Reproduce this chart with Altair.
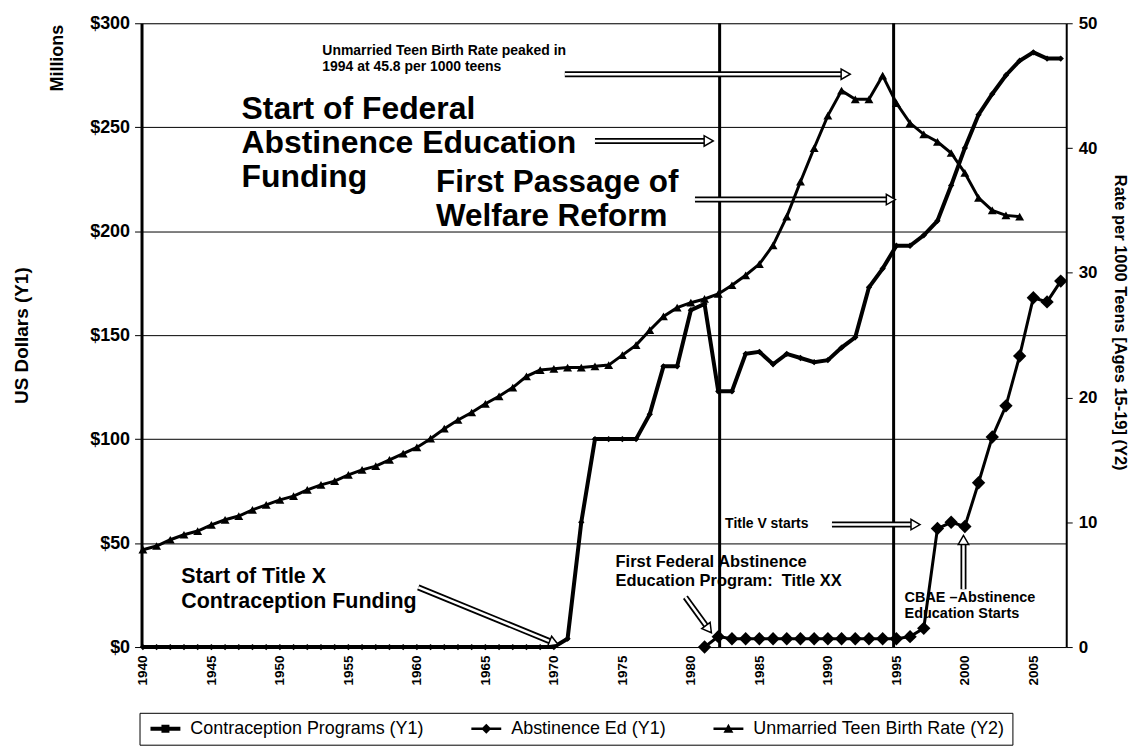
import altair as alt
import pandas as pd

# ---------------- data ----------------
years = list(range(1940, 2008))
contraception = [0, 0, 0, 0, 0, 0, 0, 0, 0, 0,
                 0, 0, 0, 0, 0, 0, 0, 0, 0, 0,
                 0, 0, 0, 0, 0, 0, 0, 0, 0, 0,
                 0, 4, 60, 100, 100, 100, 100, 112, 135, 135,
                 162, 165, 123, 123, 141, 142, 136, 141, 139, 137,
                 138, 144, 149, 173, 182, 193, 193, 198, 205, 222,
                 240, 256, 266, 275, 282, 286, 283, 283]

birth_years = list(range(1940, 2005))
birth_rate = [7.8, 8.1, 8.6, 9.0, 9.3, 9.8, 10.2, 10.5, 11.0, 11.4,
              11.8, 12.1, 12.6, 13.0, 13.3, 13.8, 14.2, 14.5, 15.0, 15.5,
              16.0, 16.7, 17.5, 18.2, 18.8, 19.5, 20.1, 20.8, 21.7, 22.2,
              22.3, 22.4, 22.4, 22.5, 22.6, 23.4, 24.2, 25.4, 26.5, 27.2,
              27.6, 27.9, 28.3, 29.0, 29.8, 30.7, 32.2, 34.5, 37.3, 40.0,
              42.6, 44.6, 43.9, 43.9, 45.8, 43.6, 42.0, 41.1, 40.5, 39.6,
              38.0, 36.0, 35.0, 34.6, 34.5]

abst_years = list(range(1981, 2008))
abstinence = [0, 5, 4, 4, 4, 4, 4, 4, 4, 4,
              4, 4, 4, 4, 4, 5, 9, 57, 60, 58,
              79, 101, 116, 140, 168, 166, 176]

event_years = [1982.1, 1994.8]

series_names = ["Contraception Programs (Y1)", "Abstinence Ed (Y1)",
                "Unmarried Teen Birth Rate (Y2)"]
# legend glyphs: a short line segment with the series' marker on it
legend_paths = ["M-1,-0.4H5V0.4H-1Z M1.2,-0.8H2.8V0.8H1.2Z",
                "M-1,-0.25H5V0.25H-1Z M2,-1L3,0L2,1L1,0Z",
                "M-1,-0.25H5V0.25H-1Z M2,-1L3,0.8H1Z"]

x_ticks = list(range(1940, 2006, 5))
y1_ticks = [0, 50, 100, 150, 200, 250, 300]
y2_ticks = [0, 10, 20, 30, 40, 50]

# annotations (data coordinates: year, Y1 dollars)
ann_text = ["Unmarried Teen Birth Rate peaked in", "1994 at 45.8 per 1000 teens",
            "Start of Federal", "Abstinence Education", "Funding",
            "First Passage of", "Welfare Reform",
            "Start of Title X", "Contraception Funding",
            "First Federal Abstinence", "Education Program:\u00a0 Title XX",
            "Title V starts",
            "CBAE \u2013Abstinence", "Education Starts"]
ann_x = [1953.1, 1953.1,
         1947.2, 1947.2, 1947.2,
         1961.4, 1961.4,
         1942.8, 1942.8,
         1974.5, 1974.5,
         1982.5,
         1995.6, 1995.6]
ann_y = [286.5, 279.0,
         258.8, 242.5, 226.0,
         223.3, 207.0,
         33.5, 21.6,
         40.7, 31.6,
         59.4,
         23.5, 15.8]
ann_size = [14, 14,
            32, 32, 32,
            31.5, 31.5,
            21.5, 21.5,
            16.5, 16.5,
            14,
            14.5, 14.5]

arrow_x = [1970.8, 1973.0, 1980.3, 1990.3, 1960.1, 1979.6, 1999.9]
arrow_y = [275.5, 243.4, 215.2, 58.9, 28.7, 24.0, 27.8]
arrow_x2 = [1991.3, 1981.3, 1994.6, 1996.4, 1970.0, 1981.3, 1999.9]
arrow_y2 = [275.5, 243.4, 215.2, 58.9, 2.0, 8.6, 51.5]
arrow_angle = [0, 0, 0, 0, 22, 53, 270]

# ---------------- tables ----------------
con_df = pd.DataFrame({"year": years, "value": contraception})
abs_df = pd.DataFrame({"year": abst_years, "value": abstinence})
birth_df = pd.DataFrame({"year": birth_years, "value": birth_rate})
ev_df = pd.DataFrame({"year": event_years})
ann_df = pd.DataFrame({"text": ann_text, "x": ann_x, "y": ann_y, "size": ann_size})
arr_df = pd.DataFrame({"x": arrow_x, "y": arrow_y, "x2": arrow_x2, "y2": arrow_y2,
                       "angle": arrow_angle})
leg_df = pd.DataFrame({"series": series_names, "year": [1940] * 3, "value": [0] * 3})
mill_df = pd.DataFrame({"t": ["Millions"]})

FONT = "Liberation Sans"
XS = alt.Scale(domain=[1939.9, 2007.4], nice=False, zero=False)
Y1S = alt.Scale(domain=[0, 300], nice=False)
Y2S = alt.Scale(domain=[0, 50], nice=False)

x_axis = alt.Axis(values=x_ticks, format="d", labelAngle=270, labelFontSize=13.5,
                  labelFontWeight="bold", labelPadding=8, domain=False, ticks=False,
                  grid=False, title=None, labelColor="black")
y1_axis = alt.Axis(values=y1_ticks, labelExpr="'$' + datum.value", grid=True,
                   gridColor="black", gridOpacity=1, gridWidth=1,
                   domainColor="black", domainWidth=3, tickColor="black", tickSize=7,
                   labelFontSize=18, labelFontWeight="bold", labelPadding=5,
                   labelColor="black",
                   title="US Dollars (Y1)", titleFontSize=19, titleFontWeight="bold",
                   titleAngle=270, titleX=-120, titleY=313, titleAlign="center",
                   titleBaseline="middle", titleColor="black")
y2_axis = alt.Axis(orient="right", values=y2_ticks, grid=False, domainColor="black",
                   domainWidth=2, tickColor="black", tickSize=6, labelFontSize=17,
                   labelFontWeight="bold", labelPadding=6, labelColor="black",
                   title="Rate per 1000 Teens [Ages 15-19] (Y2)", titleFontSize=16.5,
                   titleFontWeight="bold", titleAngle=90, titleX=53, titleY=300,
                   titleAlign="center", titleBaseline="middle", titleColor="black")

# later layers leave the axis unspecified so that the first layer's axis is kept
xn = alt.X("year:Q", scale=XS)
yn = alt.Y("value:Q", scale=Y1S)

con_line = alt.Chart(con_df).mark_line(color="black", strokeWidth=4).encode(
    x=alt.X("year:Q", scale=XS, axis=x_axis),
    y=alt.Y("value:Q", scale=Y1S, axis=y1_axis))
con_pts = alt.Chart(con_df).mark_point(shape="diamond", filled=True, color="black",
                                       size=40, opacity=1).encode(x=xn, y=yn)
abs_line = alt.Chart(abs_df).mark_line(color="black", strokeWidth=3).encode(x=xn, y=yn)
abs_pts = alt.Chart(abs_df).mark_point(shape="diamond", filled=True, color="black",
                                       size=180, opacity=1).encode(x=xn, y=yn)
events = alt.Chart(ev_df).mark_rule(color="black", strokeWidth=3).encode(x=xn)

ax = alt.X("x:Q", scale=XS)
ay = alt.Y("y:Q", scale=Y1S)
arr_outer = alt.Chart(arr_df).mark_rule(color="black", strokeWidth=6).encode(
    x=ax, y=ay, x2="x2:Q", y2="y2:Q")
arr_inner = alt.Chart(arr_df).mark_rule(color="white", strokeWidth=2.5).encode(
    x=ax, y=ay, x2="x2:Q", y2="y2:Q")
arr_head = alt.Chart(arr_df).mark_point(shape="triangle-right", filled=True,
                                        fill="white", stroke="black", strokeWidth=1.5,
                                        size=110, opacity=1).encode(
    x=alt.X("x2:Q", scale=XS), y=alt.Y("y2:Q", scale=Y1S),
    angle=alt.Angle("angle:Q", scale=None))

texts = alt.Chart(ann_df).mark_text(align="left", baseline="middle", font=FONT,
                                    fontWeight="bold", color="black").encode(
    x=ax, y=ay, text="text:N", size=alt.Size("size:Q", scale=None))

millions = alt.Chart(mill_df).mark_text(angle=270, font=FONT, fontWeight="bold",
                                        fontSize=18, color="black", align="center",
                                        baseline="middle").encode(
    x=alt.value(-84), y=alt.value(35), text="t:N")

legend_layer = alt.Chart(leg_df).mark_point(filled=True, color="black", opacity=0).encode(
    x=xn, y=yn,
    shape=alt.Shape("series:N",
                    scale=alt.Scale(domain=series_names, range=legend_paths),
                    legend=alt.Legend(title=None, orient="none", legendX=-2, legendY=692,
                                      direction="horizontal", columns=3,
                                      symbolSize=100, symbolStrokeWidth=0,
                                      symbolFillColor="black", symbolStrokeColor="black",
                                      symbolOpacity=1, labelOffset=26,
                                      labelFontSize=18, labelFont=FONT,
                                      labelColor="black", labelLimit=400,
                                      columnPadding=43, padding=7,
                                      strokeColor="black")))

left = alt.layer(con_line, con_pts, abs_line, abs_pts, events, arr_outer, arr_inner,
                 arr_head, texts, millions, legend_layer)

birth_line = alt.Chart(birth_df).mark_line(color="black", strokeWidth=3).encode(
    x=xn, y=alt.Y("value:Q", scale=Y2S, axis=y2_axis))
birth_pts = alt.Chart(birth_df).mark_point(shape="triangle-up", filled=True,
                                           color="black", size=80, opacity=1).encode(
    x=xn, y=alt.Y("value:Q", scale=Y2S))
right = alt.layer(birth_line, birth_pts)

chart = alt.layer(left, right).resolve_scale(y="independent").properties(
    width=928, height=626,
    autosize=alt.AutoSizeParams(type="none"),
    padding={"left": 134, "top": 14, "right": 64, "bottom": 100},
    background="white"
).configure_view(stroke="black", strokeWidth=2).configure(font=FONT)

chart.save("out.html", embed_options={"renderer": "svg", "actions": False})
